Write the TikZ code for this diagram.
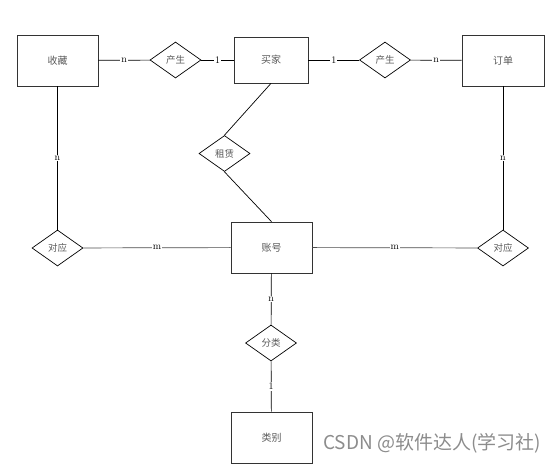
\documentclass[tikz,border=0pt]{standalone}
\usepackage{fontspec}
\newfontfamily\cjk{Noto Sans CJK SC}
\usetikzlibrary{shapes.geometric, positioning}

\begin{document}
\begin{tikzpicture}[
  x = 1pt, y = -1pt,
  line width = 0.7pt,
  entity/.style = {
      draw = black!80, rectangle, minimum width=81pt, minimum height=51pt,
      font=\cjk\fontsize{10}{12}\selectfont, text=black!65
  },
  relation/.style = {
      draw, diamond, aspect=1.4, inner sep=0pt, minimum width=51pt, minimum height=36pt,
      font=\cjk\fontsize{9.5}{11}\selectfont, text=black!65
  },
  card/.style = {fill=white, inner sep=1pt, font=\fontsize{10}{11}\selectfont}
]
  \useasboundingbox (0,0) rectangle (560,471);
  % 实体
  \node[entity] (collect) at (57.5,60.5) {收藏};
  \node[entity, minimum width=74pt, minimum height=46pt] (buyer) at (271,60) {买家};
  \node[entity, minimum width=82pt] (order) at (503,60.5) {订单};
  \node[entity] (account) at (271.5,247.5) {账号};
  \node[entity] (category) at (271.5,437.5) {类别};
  % 联系
  \node[relation] (makeL) at (175.5,60) {产生};
  \node[relation] (makeR) at (385,60) {产生};
  \node[relation] (rent) at (224.5,153.5) {租赁};
  \node[relation] (matchL) at (57.5,248) {对应};
  \node[relation] (matchR) at (503,248) {对应};
  \node[relation] (classify) at (271,343) {分类};
  % 连线
  \draw (collect) -- node[card] {n} (makeL);
  \draw (makeL) -- node[card] {1} (buyer);
  \draw (buyer) -- node[card] {1} (makeR);
  \draw (makeR) -- node[card] {n} (order);
  \draw (collect) -- node[card] {n} (matchL);
  \draw (order) -- node[card] {n} (matchR);
  \draw[black!70] (matchL) -- node[card, text=black] {m} (account);
  \draw[black!70] (account) -- node[card, text=black] {m} (matchR);
  \draw (buyer.south) -- (rent.north);
  \draw (rent.south) -- (account.north);
  \draw (account) -- node[card] {n} (classify);
  \draw (classify) -- node[card] {1} (category);
  % 水印
  \node[text=black!45, font=\cjk\fontsize{19}{22}\selectfont, anchor=west, inner sep=0pt]
    (mark) at (323,443) {CSDN @软件达人(学习社)};
\end{tikzpicture}
\end{document}
